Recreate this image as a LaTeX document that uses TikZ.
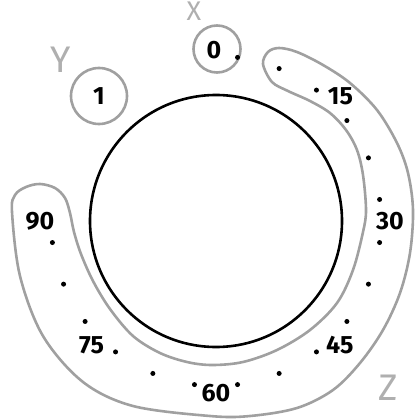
\documentclass[tikz,border=0pt]{standalone}
\usepackage{fontspec}
\setmainfont{Fira Sans}
\definecolor{lg}{RGB}{160,160,160}
\definecolor{tg}{RGB}{175,175,175}
\begin{document}
\begin{tikzpicture}[x=1pt,y=-1pt,
  grayline/.style={draw=lg,line width=2.6pt},
  numlabel/.style={font=\fontsize{25}{25}\selectfont\bfseries,text=black,inner sep=0pt},
  axislabel/.style={text=tg,inner sep=0pt},
  dotmark/.style={fill=black,circle,inner sep=0pt,minimum size=5pt}]
\useasboundingbox (0,0) rectangle (420,420);
% band Z
\draw[grayline] plot[smooth cycle,tension=0.55] coordinates {
 (263,64) (268,52) (279,48) (297,52) (323,65) (350,83) (377,110) (397,143)
 (408,173) (413,210) (410,253) (400,293) (383,330) (360,363) (333,390)
 (297,408) (250,416) (210,416) (133,406) (83,382) (43,336) (20,276)
 (12,212) (15,195) (26,187) (40,184) (55,188) (65,198) (70,213)
 (74,232) (81,254) (93,281) (110,309) (133,336) (160,353) (187,362)
 (212,365) (243,362) (277,350) (310,330) (337,303) (353,270) (363,232)
 (366,210) (363,175) (357,150) (346,130) (330,113) (310,101) (288,91) (272,82)};
% main circle
\draw[line width=2.6pt] (216,221) circle (126);
% small circles
\node[grayline,circle,minimum size=47pt,inner sep=0pt] (cx) at (217,49) {};
\node[grayline,circle,minimum size=56pt,inner sep=0pt] (cy) at (99,96) {};
\node[numlabel] (one) at (99,96) {1};
% axis letters
\node[axislabel,font=\fontsize{27}{27}\selectfont] (lx) at (194,11) {X};
\node[axislabel,font=\fontsize{37}{37}\selectfont] (ly) at (61,60) {Y};
\node[axislabel,font=\fontsize{37}{37}\selectfont] (lz) at (388,388) {Z};
% dots
\foreach \k in {0,...,17}{
  \pgfmathsetmacro{\ang}{7.5+15*\k}
  \node[dotmark] (d\k) at ({216+165*sin(\ang)},{221-165*cos(\ang)}) {};
}
% numbers
\node[numlabel] (n0) at (214,50) {0};
\foreach \v/\r in {15/176,30/174,45/175,60/172,75/176,90/176}{
  \node[numlabel] (n\v) at ({216+\r*sin(3*\v)},{221-\r*cos(3*\v)}) {\v};
}
\end{tikzpicture}
\end{document}
